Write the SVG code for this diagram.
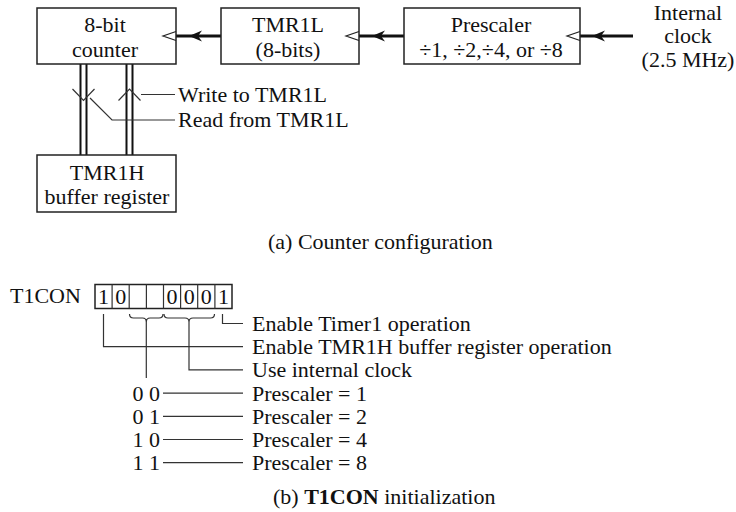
<svg xmlns="http://www.w3.org/2000/svg" width="736" height="512" viewBox="0 0 736 512">
<style>
text{font-family:"Liberation Serif","Times New Roman",serif;font-size:22px;fill:#111}
.c{text-anchor:middle}
.r{text-anchor:end}
.box{fill:#fff;stroke:#222;stroke-width:1.5}
.thick{fill:none;stroke:#111;stroke-width:3}
.thin{fill:none;stroke:#333;stroke-width:1.2}
.bus{fill:none;stroke:#111;stroke-width:2}
.chev{fill:none;stroke:#222;stroke-width:1.2}
</style>
<defs>
<path id="ah" d="M0,0 L13,-5.5 L9,0 L13,5.5 Z" fill="#111"/>
</defs>
<g id="connectors">
<path class="thick" d="M633,36 H580"/>
<use href="#ah" x="592" y="36"/>
<path class="thick" d="M404,36 H359"/>
<use href="#ah" x="372" y="36"/>
<path class="thick" d="M221,36 H176"/>
<use href="#ah" x="189" y="36"/>
<path class="bus" d="M80.5,64 V155 M86.5,64 V155 M126.5,64 V155 M132.5,64 V155"/>
<path class="thin" d="M72.5,89 L83.5,100.5 L94.5,89"/>
<path class="thin" d="M118.5,100.5 L129.5,89 L140.5,100.5"/>
<path class="thin" d="M141,94.5 H175"/>
<path class="thin" d="M90,98 L112,120 H175"/>
</g>
<g id="counter">
<rect class="box" x="37" y="8" width="139" height="56"/>
<polyline class="chev" points="176,31.5 163,36 176,40.5"/>
<text class="c" x="105" y="32">8-bit</text>
<text class="c" x="105" y="57">counter</text>
</g>
<g id="tmr1l">
<rect class="box" x="221" y="8" width="138" height="56"/>
<polyline class="chev" points="359,31.5 346,36 359,40.5"/>
<text class="c" x="288" y="32">TMR1L</text>
<text class="c" x="288" y="57">(8-bits)</text>
</g>
<g id="prescaler">
<rect class="box" x="404" y="8" width="176" height="56"/>
<polyline class="chev" points="580,31.5 567,36 580,40.5"/>
<text class="c" x="491" y="32">Prescaler</text>
<text class="c" x="491" y="57">÷1, ÷2,÷4, or ÷8</text>
</g>
<g id="clock">
<text class="c" x="688" y="20">Internal</text>
<text class="c" x="688" y="43.3">clock</text>
<text class="c" x="688" y="66.6">(2.5 MHz)</text>
</g>
<g id="tmr1h">
<rect class="box" x="37" y="155" width="139" height="57"/>
<text class="c" x="107" y="180">TMR1H</text>
<text class="c" x="107" y="204">buffer register</text>
</g>
<g id="bus-labels">
<text x="178" y="102">Write to TMR1L</text>
<text x="178" y="127">Read from TMR1L</text>
</g>
<text x="268" y="249">(a) Counter configuration</text>
<g id="t1con">
<text x="10" y="303">T1CON</text>
<rect class="box" x="95" y="284.5" width="137" height="24"/>
<path class="thin" d="M112.1,284.5 V308.5 M129.2,284.5 V308.5 M146.4,284.5 V308.5 M163.5,284.5 V308.5 M180.6,284.5 V308.5 M197.7,284.5 V308.5 M214.9,284.5 V308.5"/>
<text class="c" x="103.6" y="304">1</text>
<text class="c" x="120.7" y="304">0</text>
<text class="c" x="172" y="304">0</text>
<text class="c" x="189.2" y="304">0</text>
<text class="c" x="206.3" y="304">0</text>
<text class="c" x="223.4" y="304">1</text>
<path class="thin" d="M129.5,314 q0,4 4,4 H142.5 q3.8,0 3.8,4 q0,-4 3.8,-4 H159 q4,0 4,-4"/>
<path class="thin" d="M164,314 q0,4 4,4 H185 q4,0 4,4 q0,-4 4,-4 H210.5 q4,0 4,-4"/>
</g>
<g id="leaders">
<path class="thin" d="M222.5,314 V323.5 H243"/>
<path class="thin" d="M103.5,314 V346.7 H243"/>
<path class="thin" d="M189,322 V369.9 H243"/>
<path class="thin" d="M146.3,322 V378"/>
<path class="thin" d="M163,393.1 H243 M163,416.3 H243 M163,439.5 H243 M163,462.7 H243"/>
</g>
<g id="t1con-labels">
<text x="252" y="331">Enable Timer1 operation</text>
<text x="252" y="354.2">Enable TMR1H buffer register operation</text>
<text x="252" y="377.4">Use internal clock</text>
<text class="r" x="160" y="400.6">0 0</text>
<text class="r" x="160" y="423.8">0 1</text>
<text class="r" x="160" y="447">1 0</text>
<text class="r" x="160" y="470.2">1 1</text>
<text x="252" y="400.6">Prescaler = 1</text>
<text x="252" y="423.8">Prescaler = 2</text>
<text x="252" y="447">Prescaler = 4</text>
<text x="252" y="470.2">Prescaler = 8</text>
</g>
<text x="273" y="504">(b) <tspan font-weight="bold">T1CON</tspan> initialization</text>
</svg>
